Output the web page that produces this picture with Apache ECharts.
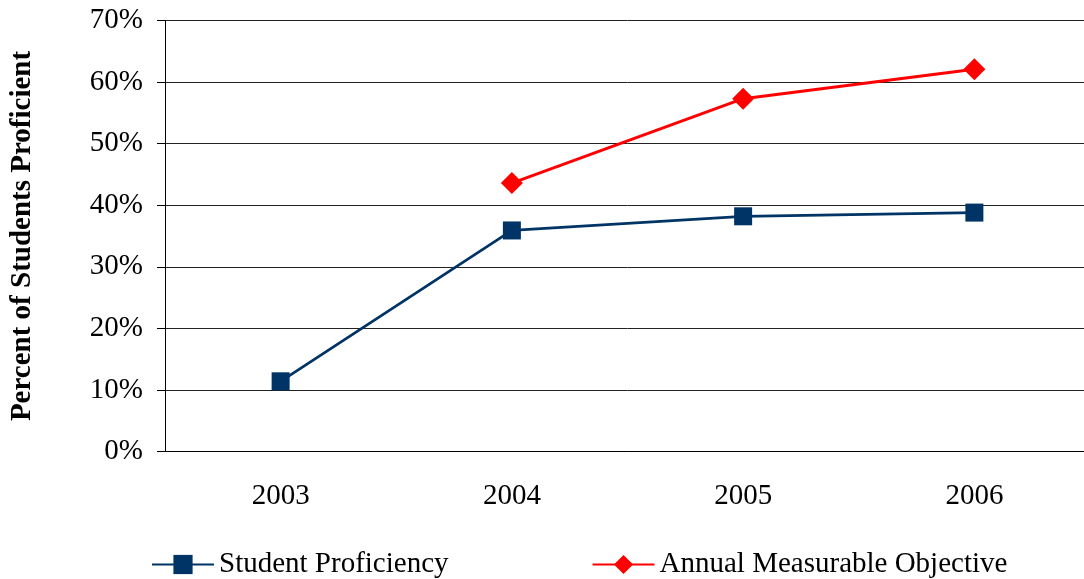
<!DOCTYPE html>
<html>
<head>
<meta charset="utf-8">
<script src="https://cdn.jsdelivr.net/npm/echarts@6/dist/echarts.min.js"></script>
<style>
  html, body { margin: 0; padding: 0; background: #fff; overflow: hidden; }
  /* plot area runs slightly past the right edge of the view */
  #chart { width: 1090px; height: 579px; }
</style>
</head>
<body>
<div id="chart"></div>
<script>
// School years on the category axis
const years = ['2003', '2004', '2005', '2006'];
// Percent of students proficient each year
const studentProficiency = [11.4, 35.9, 38.2, 38.8];
// Annual Measurable Objective target (none set for 2003)
const annualObjective = [null, 43.6, 57.3, 62.1];
// Y-axis range and step, in percent
const yMin = 0, yMax = 70, yStep = 10;

const serif = '"Liberation Serif", "Times New Roman", serif';
const navy = '#003366';
const red = '#ff0000';

const chart = echarts.init(document.getElementById('chart'), null, { renderer: 'canvas' });

chart.setOption({
  backgroundColor: '#ffffff',
  animation: false,
  textStyle: { fontFamily: serif },
  grid: { left: 164, right: 0, top: 20.5, bottom: 127.5, containLabel: false },
  legend: {
    top: 545,
    left: 146,
    itemGap: 143,
    itemWidth: 62,
    itemHeight: 24,
    textStyle: { fontFamily: serif, fontSize: 29, color: '#000' },
    data: ['Student Proficiency', 'Annual Measurable Objective']
  },
  xAxis: {
    type: 'category',
    data: years,
    boundaryGap: true,
    axisLine: { show: true, lineStyle: { color: '#000', width: 1 } },
    axisTick: { show: false },
    axisLabel: { fontFamily: serif, fontSize: 29, color: '#000', margin: 30 },
    splitLine: { show: false }
  },
  yAxis: {
    type: 'value',
    min: yMin,
    max: yMax,
    interval: yStep,
    name: 'Percent of Students Proficient',
    nameLocation: 'middle',
    nameGap: 128,
    nameTextStyle: { fontFamily: serif, fontSize: 29, fontWeight: 'bold', color: '#000' },
    axisLine: { show: true, lineStyle: { color: '#000', width: 1 } },
    axisTick: { show: true, inside: false, length: 8, lineStyle: { color: '#000' } },
    axisLabel: {
      fontFamily: serif, fontSize: 29, color: '#000', margin: 22,
      formatter: v => v + '%'
    },
    splitLine: { show: true, lineStyle: { color: '#222', width: 1 } }
  },
  series: [
    {
      name: 'Student Proficiency',
      type: 'line',
      data: studentProficiency,
      symbol: 'rect',
      symbolSize: 18,
      color: navy,
      lineStyle: { color: navy, width: 2.75 },
      itemStyle: { color: navy },
      z: 3
    },
    {
      name: 'Annual Measurable Objective',
      type: 'line',
      data: annualObjective,
      connectNulls: false,
      symbol: 'diamond',
      symbolSize: [22, 22],
      color: red,
      lineStyle: { color: red, width: 3 },
      itemStyle: { color: red },
      z: 4
    }
  ]
});
</script>
</body>
</html>
